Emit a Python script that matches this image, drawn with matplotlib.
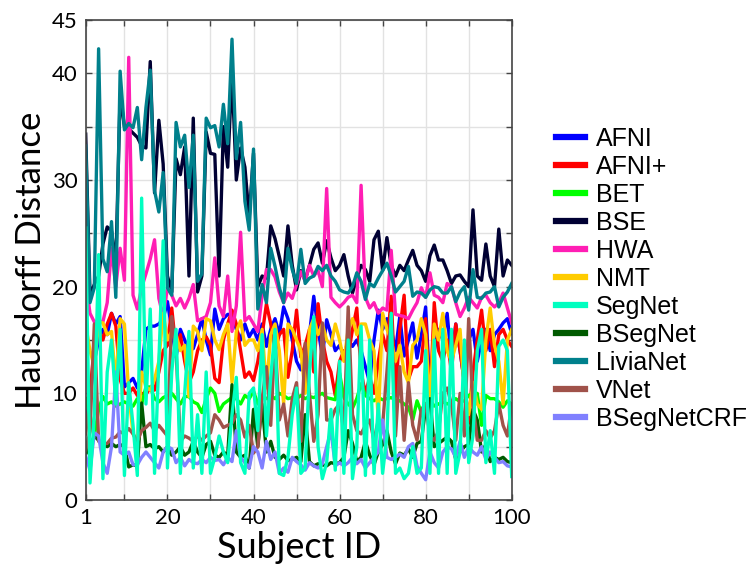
import numpy as np
import matplotlib.pyplot as plt

subjects = np.arange(1, 101)

afni = [7.1, 9.7, 13.0, 15.0, 16.0, 15.5, 17.5, 16.5, 17.2, 10.6,
        11.0, 11.4, 10.5, 12.0, 16.0, 16.3, 16.3, 16.5, 17.0, 18.6,
        16.0, 13.4, 16.0, 15.0, 14.0, 14.2, 15.5, 17.0, 15.0, 13.6,
        17.9, 16.0, 17.0, 17.4, 17.4, 16.0, 15.0, 16.5, 15.3, 16.0,
        15.0, 16.5, 14.4, 16.0, 17.0, 15.5, 18.1, 17.0, 15.0, 13.0,
        12.2, 14.0, 15.5, 19.1, 16.0, 13.5, 16.9, 15.5, 14.0, 14.5,
        13.5, 15.0, 14.4, 15.0, 14.0, 12.5, 11.0, 15.0, 17.8, 16.0,
        17.0, 16.0, 14.0, 17.2, 13.5, 15.0, 16.6, 13.3, 15.5, 18.1,
        10.3, 14.0, 16.0, 15.0, 17.5, 13.0, 16.5, 14.0, 11.0, 15.0,
        16.0, 13.0, 15.0, 16.0, 14.0, 15.5, 16.0, 16.6, 17.0, 15.6]

afni_plus = [6.2, 10.0, 14.5, 16.0, 15.0, 16.5, 17.5, 16.3, 11.3, 10.0,
             10.0, 10.5, 9.8, 10.0, 9.9, 10.5, 10.3, 12.0, 14.0, 14.5,
             18.0, 14.0, 15.5, 13.0, 11.0, 12.0, 14.0, 15.0, 15.3, 14.5,
             11.4, 11.0, 15.0, 16.5, 17.8, 16.5, 14.0, 11.5, 12.0, 11.2,
             13.0, 15.5, 18.4, 16.5, 14.0, 15.5, 16.0, 11.5, 14.0, 17.8,
             13.4, 14.5, 16.0, 12.0, 18.4, 15.0, 13.0, 12.0, 9.8, 13.0,
             14.0, 13.5, 16.0, 18.0, 12.0, 10.0, 11.5, 10.0, 13.0, 15.5,
             14.0, 19.1, 9.7, 16.0, 19.2, 11.3, 12.5, 12.5, 13.0, 17.0,
             9.0, 18.5, 14.0, 13.0, 15.0, 12.0, 16.5, 14.0, 11.0, 7.2,
             12.0, 15.0, 17.8, 14.0, 16.0, 12.5, 15.5, 16.0, 15.0, 14.4]

bet = [9.5, 8.0, 6.0, 8.5, 9.7, 9.0, 9.2, 8.8, 9.0, 9.2,
       9.0, 8.8, 9.5, 9.0, 10.6, 10.6, 9.5, 9.2, 9.6, 9.8,
       10.0, 9.5, 9.0, 9.7, 9.7, 9.2, 9.0, 8.2, 9.5, 10.5,
       10.0, 8.3, 9.0, 9.3, 9.6, 9.5, 9.0, 9.8, 9.5, 10.2,
       9.0, 9.6, 9.5, 9.8, 9.5, 10.0, 9.8, 9.5, 9.6, 9.5,
       9.8, 9.5, 9.7, 9.6, 9.8, 10.0, 9.6, 9.5, 9.4, 11.9,
       9.6, 9.0, 8.6, 9.5, 10.9, 9.8, 9.5, 9.3, 9.6, 9.4,
       9.5, 9.6, 9.4, 9.3, 9.0, 8.7, 7.5, 9.3, 8.2, 9.0,
       9.4, 8.8, 9.0, 9.2, 9.0, 9.2, 9.5, 9.2, 9.3, 9.8,
       10.0, 10.0, 7.0, 9.8, 9.5, 9.5, 9.2, 8.7, 9.3, 9.0]

bse = [34.3, 19.2, 20.2, 21.0, 24.0, 25.6, 25.2, 22.0, 38.0, 35.0,
       34.8, 34.4, 34.0, 33.2, 33.0, 41.1, 28.8, 35.6, 31.5, 21.0,
       19.5, 32.0, 30.5, 33.1, 21.0, 35.8, 19.5, 21.0, 34.5, 32.5,
       32.4, 21.0, 35.0, 31.2, 40.0, 30.0, 33.0, 31.2, 26.5, 32.5,
       20.0, 21.0, 20.8, 25.7, 24.5, 22.8, 21.0, 25.7, 22.0, 19.7,
       21.5, 20.6, 22.0, 23.5, 24.1, 22.2, 24.3, 22.7, 21.5, 22.0,
       23.0, 21.0, 19.4, 20.8, 22.0, 21.6, 20.5, 24.4, 25.2, 21.5,
       24.6, 22.0, 21.0, 22.0, 21.5, 22.5, 23.4, 22.0, 21.5, 20.5,
       22.9, 23.9, 22.5, 22.5, 21.5, 20.3, 21.0, 21.1, 20.5, 20.0,
       27.2, 21.0, 20.6, 24.0, 21.0, 20.0, 25.4, 21.0, 22.5, 22.0]

hwa = [20.5, 17.5, 16.7, 16.8, 16.7, 18.5, 23.6, 20.0, 23.6, 20.6,
       41.5, 19.2, 17.9, 19.9, 21.2, 22.6, 24.4, 18.9, 17.2, 19.9,
       19.2, 18.2, 18.9, 18.0, 18.9, 20.2, 16.8, 17.0, 17.2, 18.5,
       22.7, 18.2, 17.2, 21.0, 15.8, 18.2, 25.1, 16.8, 17.2, 16.5,
       15.8, 19.2, 21.6, 21.6, 20.9, 19.5, 18.5, 19.4, 18.9, 20.2,
       21.4, 20.5, 22.0, 21.0, 21.5, 20.0, 29.2, 19.0, 18.5, 18.1,
       18.5, 19.0, 19.2, 18.5, 29.5, 19.0, 18.0, 18.5, 17.5, 18.0,
       17.8, 23.4, 17.4, 17.3, 17.2, 17.0, 17.8, 18.5, 19.9, 19.0,
       21.3, 19.2, 19.0, 18.5, 20.3, 20.0, 18.5, 17.2, 18.0, 19.0,
       18.5, 18.0, 19.0, 19.2, 18.5, 18.1, 18.5, 19.4, 18.0, 16.6]

nmt = [16.4, 14.0, 12.5, 16.7, 16.6, 15.5, 15.8, 11.0, 17.0, 16.5,
       10.0, 6.2, 5.3, 12.0, 10.6, 10.3, 11.3, 13.0, 17.5, 15.0,
       15.8, 15.5, 14.0, 14.5, 9.7, 16.3, 15.8, 14.0, 17.0, 16.8,
       15.0, 14.1, 15.5, 16.5, 11.0, 15.8, 16.8, 14.5, 15.0, 15.0,
       14.0, 16.0, 10.5, 15.5, 16.5, 14.0, 9.0, 16.5, 16.0, 15.0,
       14.0, 10.0, 16.0, 17.0, 15.5, 16.5, 15.0, 14.5, 16.5, 15.0,
       13.0, 16.0, 17.0, 15.5, 16.5, 16.5, 15.0, 14.0, 7.5, 17.5,
       16.0, 15.0, 13.0, 14.5, 12.0, 11.0, 14.5, 15.0, 17.0, 15.5,
       9.0, 16.5, 15.0, 17.5, 14.0, 13.0, 14.5, 16.0, 10.0, 8.0,
       11.0, 9.0, 8.5, 15.0, 18.0, 14.5, 13.0, 9.0, 15.0, 16.0]

segnet = [25.5, 1.6, 8.0, 23.0, 2.0, 12.0, 15.0, 9.0, 16.0, 2.3,
          11.0, 7.0, 2.3, 28.3, 9.0, 17.9, 2.5, 13.0, 24.3, 3.0,
          12.0, 16.0, 2.5, 10.0, 15.8, 3.0, 8.0, 2.5, 12.0, 2.5,
          4.0, 6.0, 4.5, 3.5, 8.0, 11.5, 3.5, 2.5, 10.0, 10.5,
          6.5, 15.5, 6.0, 11.5, 16.0, 2.5, 2.3, 4.0, 8.0, 10.5,
          2.5, 3.0, 12.0, 17.2, 5.0, 2.0, 3.5, 8.5, 2.8, 13.0,
          2.5, 15.0, 2.0, 5.0, 16.3, 2.3, 15.0, 2.5, 9.0, 2.5,
          6.0, 17.5, 2.5, 3.0, 2.0, 2.5, 5.0, 2.5, 3.0, 14.0,
          2.5, 15.0, 2.5, 16.0, 2.5, 16.0, 2.5, 4.5, 15.0, 3.5,
          6.0, 14.0, 16.0, 3.5, 6.5, 2.5, 14.4, 15.0, 14.0, 2.2]

bsegnet = [4.3, 5.0, 6.0, 5.6, 5.2, 5.0, 5.3, 5.0, 5.2, 5.0,
           3.1, 3.3, 3.2, 9.1, 5.0, 5.2, 4.8, 5.0, 4.5, 5.0,
           4.2, 4.5, 5.0, 4.2, 4.5, 5.5, 4.5, 4.0, 5.2, 5.5,
           4.2, 4.0, 4.5, 4.2, 10.8, 4.5, 4.0, 4.2, 3.0, 8.5,
           5.0, 9.0, 4.5, 5.5, 4.0, 3.8, 4.2, 3.7, 3.8, 4.0,
           3.6, 8.0, 3.6, 3.2, 3.4, 3.3, 3.2, 3.5, 3.4, 3.5,
           4.0, 6.5, 5.3, 3.6, 4.0, 5.5, 4.2, 3.3, 4.5, 5.2,
           6.5, 4.5, 3.4, 4.4, 4.2, 4.8, 4.0, 5.3, 5.5, 8.7,
           9.5, 5.0, 5.3, 5.6, 5.9, 5.5, 3.8, 4.5, 5.0, 5.2,
           8.5, 7.5, 4.5, 5.2, 3.6, 4.0, 3.8, 4.0, 3.6, 3.5]

livianet = [33.2, 18.5, 19.9, 42.3, 22.6, 21.4, 26.1, 19.0, 40.2, 34.7,
            35.3, 34.9, 36.8, 31.9, 36.8, 40.3, 29.0, 27.0, 30.7, 19.9,
            19.2, 35.4, 33.1, 34.2, 29.3, 34.2, 20.5, 21.2, 35.8, 34.9,
            35.1, 33.1, 37.1, 33.4, 43.2, 32.0, 35.4, 28.0, 25.3, 32.9,
            17.9, 20.2, 18.5, 23.6, 21.9, 19.9, 18.5, 23.6, 21.6, 20.3,
            23.5, 20.3, 20.8, 21.0, 21.9, 21.5, 22.0, 21.0, 20.5, 19.7,
            19.5, 19.4, 20.0, 21.3, 20.5, 18.8, 20.3, 20.0, 20.8, 21.5,
            22.2, 21.0, 19.5, 20.0, 20.5, 21.9, 19.1, 19.5, 19.4, 19.0,
            19.7, 20.0, 19.9, 19.4, 19.4, 20.0, 18.6, 19.5, 20.0, 17.8,
            21.6, 19.0, 18.9, 19.4, 19.5, 20.0, 18.1, 19.0, 19.5, 20.3]

vnet = [4.7, 6.4, 16.5, 5.5, 5.3, 5.3, 5.8, 5.9, 6.4, 6.2,
        6.7, 6.2, 5.5, 6.5, 6.8, 7.2, 6.5, 7.0, 6.5, 6.0,
        17.2, 14.0, 5.5, 6.0, 5.8, 5.5, 6.0, 5.6, 6.0, 6.3,
        8.0, 7.5, 6.8, 7.0, 7.2, 8.0, 7.5, 5.9, 7.0, 4.4,
        5.0, 9.5, 12.5, 7.0, 15.3, 7.5, 9.0, 6.0, 9.5, 11.0,
        5.5, 14.7, 10.0, 5.5, 8.0, 16.6, 7.5, 7.5, 8.5, 9.0,
        6.5, 18.1, 8.0, 6.5, 6.2, 7.0, 7.5, 5.6, 7.5, 7.0,
        12.0, 17.5, 6.0, 12.5, 5.6, 11.0, 7.0, 5.6, 8.5, 9.0,
        6.0, 5.6, 6.5, 10.0, 10.5, 9.0, 5.6, 10.0, 6.0, 17.0,
        9.0, 5.6, 5.6, 6.5, 5.8, 6.5, 9.0, 7.0, 6.0, 9.0]

bsegnet_crf = [4.1, 2.8, 6.3, 6.0, 3.5, 2.5, 5.0, 12.0, 4.5, 4.2,
               4.5, 3.3, 3.3, 4.0, 4.5, 4.0, 3.5, 3.0, 4.5, 5.0,
               4.8, 3.5, 4.0, 3.2, 3.8, 3.5, 3.4, 3.8, 3.5, 4.0,
               3.7, 3.8, 3.3, 4.0, 3.6, 6.5, 4.0, 3.5, 3.0, 5.0,
               4.5, 3.0, 5.5, 3.8, 4.5, 2.5, 3.0, 2.6, 4.0, 3.6,
               3.3, 2.8, 3.5, 3.2, 3.0, 3.4, 5.0, 6.5, 3.2, 3.5,
               3.2, 3.5, 4.0, 3.4, 3.8, 3.0, 3.5, 4.0, 4.5, 7.5,
               4.0, 3.8, 4.0, 4.3, 4.0, 5.0, 5.3, 3.2, 2.5, 1.9,
               4.5, 3.5, 3.0, 4.5, 5.0, 4.8, 4.0, 5.5, 4.0, 5.0,
               4.5, 4.2, 5.0, 3.8, 4.5, 4.0, 3.5, 3.6, 3.2, 3.1]

methods = ["AFNI", "AFNI+", "BET", "BSE", "HWA", "NMT",
           "SegNet", "BSegNet", "LiviaNet", "VNet", "BSegNetCRF"]
series = [afni, afni_plus, bet, bse, hwa, nmt,
          segnet, bsegnet, livianet, vnet, bsegnet_crf]
colors = ["#0000ff", "#ff0000", "#00ff00", "#000033", "#ff1eb4", "#ffcc00",
          "#00ffc0", "#005a00", "#00808c", "#a0524a", "#8080ff"]

fig = plt.figure(figsize=(7.46, 5.67), dpi=100)
ax = fig.add_axes([85.7 / 746, 67 / 567, 426 / 746, 480 / 567])

for k, (name, vals, c) in enumerate(zip(methods, series, colors)):
    # SegNet sits over the other curves
    z = 5 if name == "SegNet" else 2 + k * 0.1
    ax.plot(subjects, vals, color=c, lw=2.4, label=name, zorder=z)

ax.set_xlim(1, 100)
ax.set_ylim(0, 45)
ax.set_xticks([1, 10, 20, 30, 40, 50, 60, 70, 80, 90, 100])
ax.set_xticklabels(["1", "", "20", "", "40", "", "60", "", "80", "", "100"])
ax.set_yticks(np.arange(0, 46, 5))
ax.set_yticklabels(["0", "", "10", "", "20", "", "30", "", "40", "45"])
ax.grid(True, color="#e2e2e2", lw=1)
ax.set_axisbelow(True)
ax.tick_params(direction="in", top=True, right=True, length=4, width=1,
               color="#444444", labelsize=16, pad=6)
for lab in ax.get_xticklabels() + ax.get_yticklabels():
    lab.set_family("Lato")
for sp in ax.spines.values():
    sp.set_color("#444444")
    sp.set_linewidth(1.2)
    sp.set_zorder(6)

ax.set_xlabel("Subject ID", family="Lato", fontsize=26, labelpad=2)
ax.set_ylabel("Hausdorff Distance", family="Lato", fontsize=25, labelpad=3)

leg = fig.legend(loc="upper left", bbox_to_anchor=(546 / 746, 1 - 117 / 567),
                 frameon=False, prop={"family": "Liberation Sans", "size": 18},
                 handlelength=1.15, handletextpad=0.45, labelspacing=0.16,
                 borderaxespad=0)
for ln in leg.get_lines():
    ln.set_linewidth(4.5)

fig.savefig("out.png", dpi=100)
